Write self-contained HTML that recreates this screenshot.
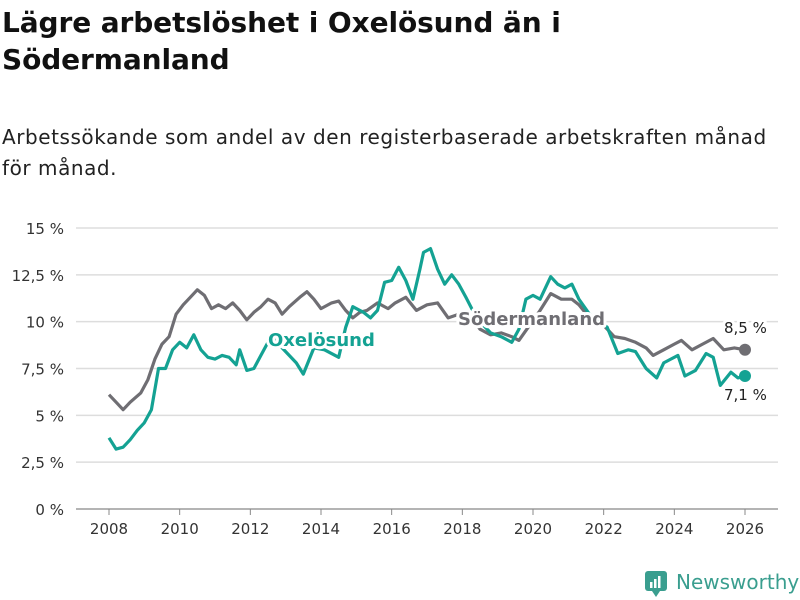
<!DOCTYPE html>
<html><head><meta charset="utf-8"><style>
body{margin:0;background:#fff;font-family:"DejaVu Sans","Liberation Sans",sans-serif;}
#wrap{position:relative;width:800px;height:600px;overflow:hidden;}
h1{position:absolute;left:2px;top:4px;margin:0;font-size:28px;line-height:37px;font-weight:bold;color:#111;width:610px;letter-spacing:-0.1px}
p{position:absolute;left:2px;top:122px;margin:0;font-size:20px;line-height:31px;color:#222;width:792px;letter-spacing:0.55px}
svg{position:absolute;left:0;top:0}
.lbl{paint-order:stroke;stroke:#fff;stroke-width:6px;stroke-linejoin:round}
</style></head><body><div id="wrap">
<h1>Lägre arbetslöshet i Oxelösund än i Södermanland</h1>
<p>Arbetssökande som andel av den registerbaserade arbetskraften månad för månad.</p>
<svg id="chart" width="800" height="600"></svg>
</div>
<script>
const yTicks=[0,2.5,5,7.5,10,12.5,15];
const yTickLabels=["0 %","2,5 %","5 %","7,5 %","10 %","12,5 %","15 %"];
const xTicks=[2008,2010,2012,2014,2016,2018,2020,2022,2024,2026];
const sodYears=[2008.0,2008.2,2008.4,2008.6,2008.9,2009.1,2009.3,2009.5,2009.7,2009.9,2010.1,2010.3,2010.5,2010.7,2010.9,2011.1,2011.3,2011.5,2011.7,2011.9,2012.1,2012.3,2012.5,2012.7,2012.9,2013.1,2013.4,2013.6,2013.8,2014.0,2014.3,2014.5,2014.7,2014.9,2015.1,2015.3,2015.6,2015.9,2016.1,2016.4,2016.7,2017.0,2017.3,2017.6,2017.9,2018.2,2018.5,2018.8,2019.1,2019.4,2019.6,2019.9,2020.2,2020.5,2020.8,2021.1,2021.3,2021.6,2021.8,2022.0,2022.3,2022.6,2022.9,2023.2,2023.4,2023.7,2024.0,2024.2,2024.5,2024.8,2025.1,2025.4,2025.7,2026.0];
const sodValues=[6.1,5.7,5.3,5.7,6.2,6.9,8.0,8.8,9.2,10.4,10.9,11.3,11.7,11.4,10.7,10.9,10.7,11.0,10.6,10.1,10.5,10.8,11.2,11.0,10.4,10.8,11.3,11.6,11.2,10.7,11.0,11.1,10.6,10.2,10.5,10.6,11.0,10.7,11.0,11.3,10.6,10.9,11.0,10.2,10.4,10.4,9.6,9.3,9.4,9.2,9.0,9.8,10.6,11.5,11.2,11.2,10.9,10.2,10.1,9.8,9.2,9.1,8.9,8.6,8.2,8.5,8.8,9.0,8.5,8.8,9.1,8.5,8.6,8.5];
const oxYears=[2008.0,2008.2,2008.4,2008.6,2008.8,2009.0,2009.2,2009.4,2009.6,2009.8,2010.0,2010.2,2010.4,2010.6,2010.8,2011.0,2011.2,2011.4,2011.6,2011.7,2011.9,2012.1,2012.3,2012.5,2012.7,2012.9,2013.1,2013.3,2013.5,2013.8,2014.1,2014.5,2014.7,2014.9,2015.2,2015.4,2015.6,2015.8,2016.0,2016.2,2016.4,2016.6,2016.8,2016.9,2017.1,2017.3,2017.5,2017.7,2017.9,2018.1,2018.4,2018.8,2019.1,2019.4,2019.6,2019.8,2020.0,2020.2,2020.5,2020.7,2020.9,2021.1,2021.3,2021.6,2021.9,2022.1,2022.4,2022.7,2022.9,2023.2,2023.5,2023.7,2023.9,2024.1,2024.3,2024.6,2024.9,2025.1,2025.3,2025.6,2025.8,2026.0];
const oxValues=[3.8,3.2,3.3,3.7,4.2,4.6,5.3,7.5,7.5,8.5,8.9,8.6,9.3,8.5,8.1,8.0,8.2,8.1,7.7,8.5,7.4,7.5,8.2,8.9,9.2,8.6,8.2,7.8,7.2,8.6,8.5,8.1,9.7,10.8,10.5,10.2,10.6,12.1,12.2,12.9,12.2,11.2,12.8,13.7,13.9,12.8,12.0,12.5,12.0,11.3,10.2,9.4,9.2,8.9,9.6,11.2,11.4,11.2,12.4,12.0,11.8,12.0,11.2,10.4,10.0,9.7,8.3,8.5,8.4,7.5,7.0,7.8,8.0,8.2,7.1,7.4,8.3,8.1,6.6,7.3,7.0,7.1];
const X0=2008,X1=2026,PX0=109,PX1=745,PY0=509,PY15=228;
const sx=v=>PX0+(v-X0)*(PX1-PX0)/(X1-X0);
const sy=v=>PY0-(v/15)*(PY0-PY15);
const svg=document.getElementById('chart');const NS='http://www.w3.org/2000/svg';
function mk(t,a,txt){const e=document.createElementNS(NS,t);for(const k in a)e.setAttribute(k,a[k]);if(txt!==undefined)e.textContent=txt;svg.appendChild(e);return e;}
yTicks.forEach((t,i)=>{
 const g=mk('line',{x1:76,x2:778,y1:sy(t),y2:sy(t),stroke:t===0?'#888':'#ddd','stroke-width':t===0?1.2:1.5});
 
 
 const l=mk('text',{x:64,y:sy(t)+6,'text-anchor':'end','font-size':15,fill:'#333'},yTickLabels[i]);
 
 
});
xTicks.forEach(t=>{
 const tk=mk('line',{x1:sx(t),x2:sx(t),y1:509,y2:515,stroke:'#888'});
 
 
 const l=mk('text',{x:sx(t),y:534,'text-anchor':'middle','font-size':15,fill:'#333'},String(t));
 
 
});
function line(xs,ys,col,name){
 const d=xs.map((x,i)=>(i?'L':'M')+sx(x).toFixed(1)+','+sy(ys[i]).toFixed(1)).join('');
 const p=mk('path',{d:d,fill:'none',stroke:col,'stroke-width':3.2,'stroke-linejoin':'round'});
 
 
 const n=xs.length-1;
 const c=mk('circle',{cx:sx(xs[n]),cy:sy(ys[n]),r:6,fill:col});
 
 
}
line(sodYears,sodValues,'#6f6e73','sodermanland-line');
line(oxYears,oxValues,'#14a293','oxelosund-line');
const l1=mk('text',{x:268,y:346,'font-size':18,'font-weight':'bold',fill:'#14a293',class:'lbl'},'Oxelösund');


const l2=mk('text',{x:458,y:325,'font-size':18,'font-weight':'bold',fill:'#6f6e73',class:'lbl'},'Södermanland');


const v1=mk('text',{x:724,y:333,'font-size':15,fill:'#222',class:'lbl'},'8,5 %');


const v2=mk('text',{x:724,y:400,'font-size':15,fill:'#222',class:'lbl'},'7,1 %');


const lg=mk('rect',{x:645,y:571,width:22,height:20,rx:3,fill:'#3a9e8f'});


mk('path',{d:'M652,591 L656,597 L660,591Z',fill:'#3a9e8f'});
mk('rect',{x:650,y:582,width:2.5,height:6,fill:'#fff'});
mk('rect',{x:654,y:579,width:2.5,height:9,fill:'#fff'});
mk('rect',{x:658,y:576,width:2.5,height:12,fill:'#fff'});
const lt=mk('text',{x:676,y:589,'font-size':20,fill:'#3a9e8f'},'Newsworthy');


</script></body></html>
